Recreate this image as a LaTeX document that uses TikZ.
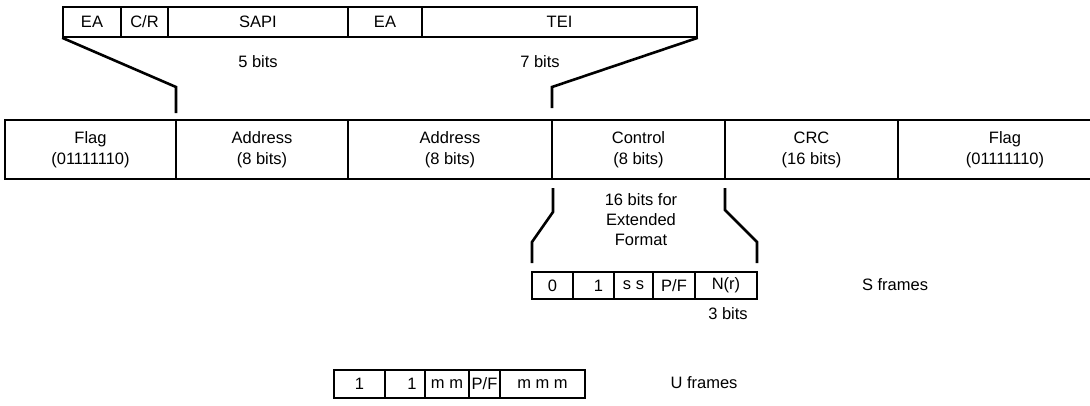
\documentclass[tikz,border=0pt]{standalone}
\usepackage{fontspec}
\setmainfont{Liberation Sans}
\begin{document}
\begin{tikzpicture}[x=1pt,y=-1pt,
  field/.style={draw, line width=1.6pt, inner sep=0pt, align=center, font=\fontsize{16.5}{21}\selectfont},
  lbl/.style={inner sep=0pt, align=center, font=\fontsize{16.5}{20}\selectfont},
  bracket/.style={line width=2.6pt, line join=miter}]
\useasboundingbox (0,0) rectangle (1090,405);
% main frame
\node[field, minimum width=171pt, minimum height=59pt] (flag1) at (90.5,149.5) {Flag\\(01111110)};
\node[field, minimum width=172pt, minimum height=59pt] (addr1) at (262,149.5) {Address\\(8 bits)};
\node[field, minimum width=204pt, minimum height=59pt] (addr2) at (450,149.5) {Address\\(8 bits)};
\node[field, minimum width=173pt, minimum height=59pt] (ctrl) at (638.5,149.5) {Control\\(8 bits)};
\node[field, minimum width=173pt, minimum height=59pt] (crc) at (811.5,149.5) {CRC\\(16 bits)};
\node[field, minimum width=214pt, minimum height=59pt] (flag2) at (1005,149.5) {Flag\\(01111110)};
% address strip
\node[field, minimum width=58pt, minimum height=30pt] (ea1) at (92,22) {EA};
\node[field, minimum width=47pt, minimum height=30pt] (cr) at (144.5,22) {C/R};
\node[field, minimum width=180pt, minimum height=30pt] (sapi) at (258,22) {SAPI};
\node[field, minimum width=74pt, minimum height=30pt] (ea2) at (385,22) {EA};
\node[field, minimum width=275pt, minimum height=30pt] (tei) at (559.5,22) {TEI};
\node[lbl] (b5) at (258,62) {5 bits};
\node[lbl] (b7) at (540,62) {7 bits};
\coordinate (la) at (176,87);
\coordinate (lb) at (176,113);
\coordinate (ra) at (552,87);
\coordinate (rb) at (552,108);
\draw[bracket] (ea1.south west) -- (la) -- (lb);
\draw[bracket] (tei.south east) -- (ra) -- (rb);
% extended format
\node[lbl] (ext) at (641,220) {16 bits for\\Extended\\Format};
\coordinate (c1) at (553,188);
\coordinate (c2) at (553,212);
\coordinate (c3) at (532,242);
\coordinate (c4) at (532,263);
\coordinate (d1) at (725,188);
\coordinate (d2) at (725,210);
\coordinate (d3) at (757,242);
\coordinate (d4) at (757,263);
\draw[bracket] (c1) -- (c2) -- (c3) -- (c4);
\draw[bracket] (d1) -- (d2) -- (d3) -- (d4);
% S frame
\node[field, minimum width=41pt, minimum height=27pt] (s1) at (552.5,285.5) {0};
\node[field, minimum width=41pt, minimum height=27pt] (s2) at (593.5,285.5) {\hspace*{10pt}1};
\node[field, minimum width=39pt, minimum height=27pt] (s3) at (633.5,285.5) {s s};
\node[field, minimum width=42pt, minimum height=27pt] (s4) at (674,285.5) {P/F};
\node[field, minimum width=62pt, minimum height=27pt] (s5) at (726,285.5) {N(r)};
\node[lbl] (b3) at (728,314) {3 bits};
\node[lbl] (sf) at (895,285) {S frames};
% U frame
\node[field, minimum width=51pt, minimum height=28pt] (u1) at (359.5,384) {1};
\node[field, minimum width=40pt, minimum height=28pt] (u2) at (405,384) {\hspace*{14pt}1};
\node[field, minimum width=44pt, minimum height=28pt] (u3) at (447,384) {m m};
\node[field, minimum width=31pt, minimum height=28pt] (u4) at (484.5,384) {P/F};
\node[field, minimum width=85pt, minimum height=28pt] (u5) at (542.5,384) {m m m};
\node[lbl] (uf) at (704,383) {U frames};
\end{tikzpicture}
\end{document}
